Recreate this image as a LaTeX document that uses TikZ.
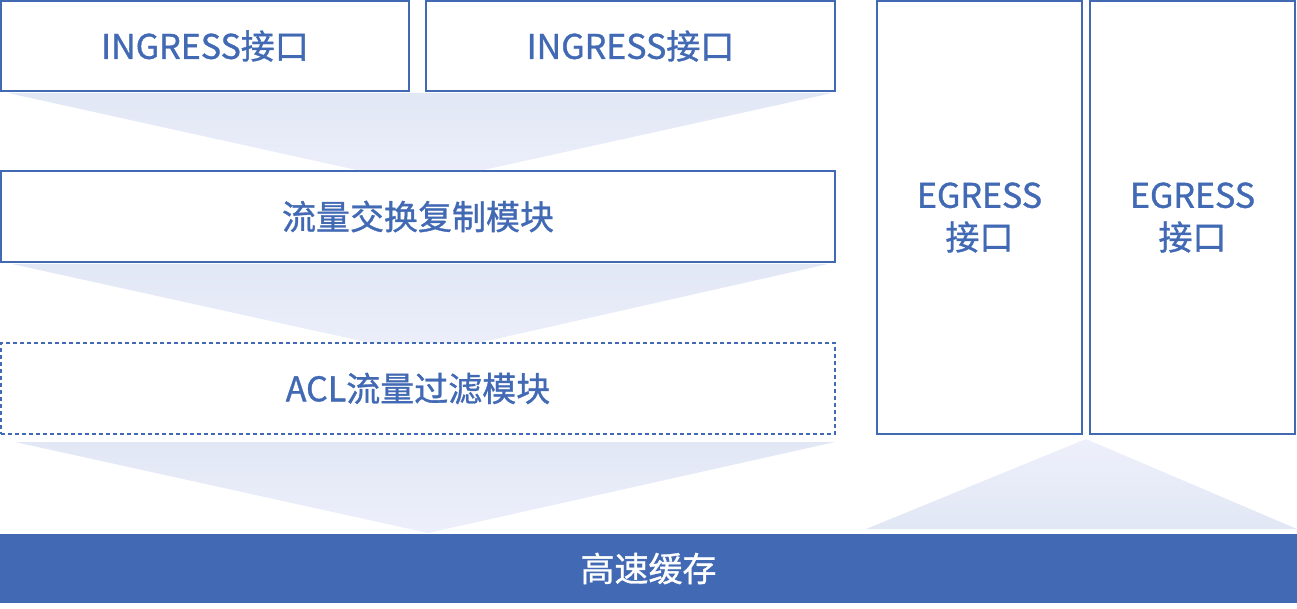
\documentclass[tikz,border=0pt]{standalone}
\usepackage{fontspec}
\setmainfont{Noto Sans CJK SC}[AutoFakeBold=1]
\newfontfamily\labelfont{Noto Sans CJK SC}[FakeBold=1]
\definecolor{mainblue}{HTML}{4169B4}
\definecolor{shtop}{HTML}{E2E7F5}
\definecolor{shmid}{HTML}{D4DCEF}
\definecolor{shbot}{HTML}{EDF0FB}
\tikzset{
  boxstyle/.style={draw=mainblue, line width=1.3pt, fill=white, inner sep=0pt,
    text=mainblue, font=\labelfont\fontsize{34}{42}\selectfont, align=center},
  shadetri/.style={top color=shtop, middle color=shmid, bottom color=shbot},
  shadeup/.style={top color=shbot, middle color=shmid, bottom color=shtop},
}
\begin{document}
\begin{tikzpicture}[x=1pt,y=-1pt]
\useasboundingbox (0,0) rectangle (1297,609);
% funnels
\shade[shadetri] (8,93) -- (832,93) -- (420,184) -- cycle;
\shade[shadetri] (12,264) -- (828,264) -- (425,355) -- cycle;
\shade[shadetri] (15,442) -- (835,442) -- (428,533) -- cycle;
\shade[shadeup] (866,529) -- (1297,529) -- (1086,439) -- cycle;
% boxes
\node[boxstyle, minimum width=408pt, minimum height=90pt] (in1) at (205,46) {INGRESS接口};
\node[boxstyle, minimum width=409pt, minimum height=90pt] (in2) at (630.5,46) {INGRESS接口};
\node[boxstyle, minimum width=834pt, minimum height=91pt] (sw) at (418,216.5) {流量交换复制模块};
\node[boxstyle, dashed, dash pattern=on 4pt off 3pt, line width=1.2pt, minimum width=834pt, minimum height=91pt] (acl) at (418,388.5) {ACL流量过滤模块};
\node[boxstyle, minimum width=205pt, minimum height=433pt] (eg1) at (979.5,217.5) {EGRESS\\接口};
\node[boxstyle, minimum width=205pt, minimum height=433pt] (eg2) at (1192.5,217.5) {EGRESS\\接口};
\node[fill=mainblue, inner sep=0pt, minimum width=1297pt, minimum height=69pt,
  text=white, font=\labelfont\fontsize{34}{42}\selectfont] (cache) at (648.5,568.5) {高速缓存};
\end{tikzpicture}
\end{document}
